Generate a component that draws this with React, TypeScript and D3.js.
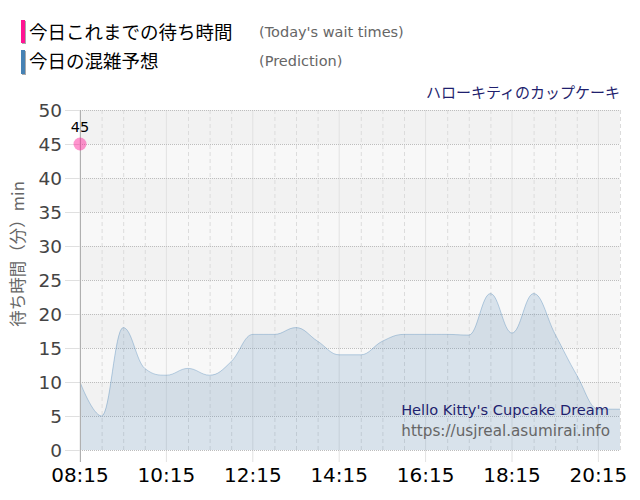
import React from "react";
import * as d3 from "d3";

const predTimes = ["08:15","08:45","09:15","09:45","10:15","10:45","11:15","11:45","12:15","12:45","13:15","13:45","14:15","14:45","15:15","15:45","16:15","16:45","17:15","17:45","18:15","18:45","19:15","19:45","20:15","20:45"];
const predValues = [10,5,18,12,11,12,11,13,17,17,18,16,14,14,16,17,17,17,16.9,23,17.2,23,17,11,6,6];
const todayTimes = ["08:15"];
const todayValues = [45];
const yTicks = [0,5,10,15,20,25,30,35,40,45,50];
const xTickLabels = ["08:15","10:15","12:15","14:15","16:15","18:15","20:15"];

const W = 640, H = 500;
const M = { left: 80, right: 620, top: 110, bottom: 450 };
const toMin = (t: string) => { const [h, m] = t.split(":").map(Number); return h * 60 + m; };

const x = d3.scaleLinear().domain([toMin("08:15"), toMin("20:45")]).range([M.left, M.right]);
const y = d3.scaleLinear().domain([0, 50]).range([M.bottom, M.top]);

type P = [number, number];
function splinePath(pts: P[], closeTo?: number): string {
  const s = 1.5, den = s + 1;
  const conts = pts.map((pt, i) => {
    const last = pts[i - 1], next = pts[i + 1];
    if (!last || !next) return null;
    const [px, py] = pt;
    let lcx = (s * px + last[0]) / den, lcy = (s * py + last[1]) / den;
    let rcx = (s * px + next[0]) / den, rcy = (s * py + next[1]) / den;
    if (rcx !== lcx) {
      const corr = ((rcy - lcy) * (rcx - px)) / (rcx - lcx) + py - rcy;
      lcy += corr; rcy += corr;
    }
    if (lcy > last[1] && lcy > py) { lcy = Math.max(last[1], py); rcy = 2 * py - lcy; }
    else if (lcy < last[1] && lcy < py) { lcy = Math.min(last[1], py); rcy = 2 * py - lcy; }
    if (rcy > next[1] && rcy > py) { rcy = Math.max(next[1], py); lcy = 2 * py - rcy; }
    else if (rcy < next[1] && rcy < py) { rcy = Math.min(next[1], py); lcy = 2 * py - rcy; }
    return { lcx, lcy, rcx, rcy };
  });
  const p = d3.path();
  pts.forEach((pt, i) => {
    if (i === 0) { p.moveTo(pt[0], pt[1]); return; }
    const pc = conts[i - 1], cc = conts[i];
    const prev = pts[i - 1];
    p.bezierCurveTo(
      pc ? pc.rcx : prev[0], pc ? pc.rcy : prev[1],
      cc ? cc.lcx : pt[0], cc ? cc.lcy : pt[1],
      pt[0], pt[1]
    );
  });
  if (closeTo !== undefined) {
    p.lineTo(pts[pts.length - 1][0], closeTo);
    p.lineTo(pts[0][0], closeTo);
    p.closePath();
  }
  return p.toString();
}

export default function App() {
  const pts: P[] = predTimes.map((t, i) => [x(toMin(t)), y(predValues[i])]);
  const gridTimes = d3.range(toMin("08:15"), toMin("20:45") + 1, 30);
  const majorTimes = xTickLabels.map(toMin);
  const font = "'DejaVu Sans', 'Noto Sans CJK JP', sans-serif";
  const jp = "'Noto Sans CJK JP', sans-serif";
  return (
    <svg width={W} height={H} style={{ position: "absolute", left: 0, top: 0, background: "#fff" }} fontFamily={font}>
      {/* bands */}
      {yTicks.slice(0, -1).map((v, i) => (
        <rect key={"b" + v} x={M.left} width={M.right - M.left} y={y(v + 5)} height={y(v) - y(v + 5)}
          fill={i % 2 === 0 ? "#f8f8f8" : "#f2f2f2"} />
      ))}
      {/* vertical grid */}
      {gridTimes.map((t) => majorTimes.includes(t) ? (
        <line key={"v" + t} x1={x(t)} x2={x(t)} y1={M.top} y2={M.bottom + 12} stroke="#e2e2e2" strokeWidth={1} />
      ) : (
        <line key={"v" + t} x1={x(t) + 0.5} x2={x(t) + 0.5} y1={M.top} y2={M.bottom} stroke="#dcdcdc" strokeWidth={1} strokeDasharray="4,3" />
      ))}
      {/* horizontal grid */}
      {yTicks.map((v) => (
        <g key={"h" + v}>
          <line x1={65} x2={M.left} y1={Math.round(y(v)) + 0.5} y2={Math.round(y(v)) + 0.5} stroke="#e0e0e0" />
          <line x1={M.left} x2={M.right} y1={Math.round(y(v)) + 0.5} y2={Math.round(y(v)) + 0.5} stroke="#bdbdbd" strokeDasharray="1,1" />
        </g>
      ))}
      {/* area */}
      <path d={splinePath(pts, y(0))} fill="#4682b4" fillOpacity={0.18} />
      <path d={splinePath(pts)} fill="none" stroke="#4682b4" strokeOpacity={0.35} strokeWidth={1} />
      {/* y axis line */}
      <line x1={M.left + 0.5} x2={M.left + 0.5} y1={M.top} y2={M.bottom + 12} stroke="#b0b0b0" />
      {/* y tick labels */}
      {yTicks.map((v) => (
        <text key={"yl" + v} x={62} y={y(v)} dy="0.36em" textAnchor="end" fontSize={18.5} fill="#444">{v}</text>
      ))}
      {/* x tick labels */}
      {xTickLabels.map((t) => (
        <text key={"xl" + t} x={x(toMin(t))} y={482} textAnchor="middle" fontSize={20} fill="#000">{t}</text>
      ))}
      {/* y axis title */}
      <text transform={`translate(24,${254}) rotate(-90)`} textAnchor="middle" fontSize={16.5} fill="#666" fontFamily={jp}>待ち時間（分）min</text>
      {/* today's point */}
      {todayTimes.map((t, i) => (
        <g key={"pt" + t}>
          <circle cx={x(toMin(t))} cy={y(todayValues[i])} r={6.5} fill="#ff1493" fillOpacity={0.45} />
          <text x={x(toMin(t))} y={y(todayValues[i]) - 12} textAnchor="middle" fontSize={14.5} fill="#000">{todayValues[i]}</text>
        </g>
      ))}
      {/* legend */}
      <rect x={22} y={21} width={4} height={23} fill="#aaa" />
      <rect x={21} y={20} width={4} height={23} fill="#ff1493" />
      <text x={29} y={39} fontSize={18.5} fill="#000" fontFamily={jp}>今日これまでの待ち時間</text>
      <text x={259} y={37} fontSize={14.5} fill="#666">(Today's wait times)</text>
      <rect x={22} y={51} width={4} height={24} fill="#aaa" />
      <rect x={21} y={50} width={4} height={24} fill="#4682b4" />
      <text x={29} y={68} fontSize={18.5} fill="#000" fontFamily={jp}>今日の混雑予想</text>
      <text x={259} y={66} fontSize={14.5} fill="#666">(Prediction)</text>
      {/* title */}
      <text x={620} y={98} textAnchor="end" fontSize={15} fill="#1f1f6e" fontFamily={jp}>ハローキティのカップケーキ</text>
      {/* credits */}
      <text x={609} y={415} textAnchor="end" fontSize={14.6} fill="#1f1f6e">Hello Kitty's Cupcake Dream</text>
      <text x={610} y={436} textAnchor="end" fontSize={15.2} fill="#666">https://usjreal.asumirai.info</text>
    </svg>
  );
}
